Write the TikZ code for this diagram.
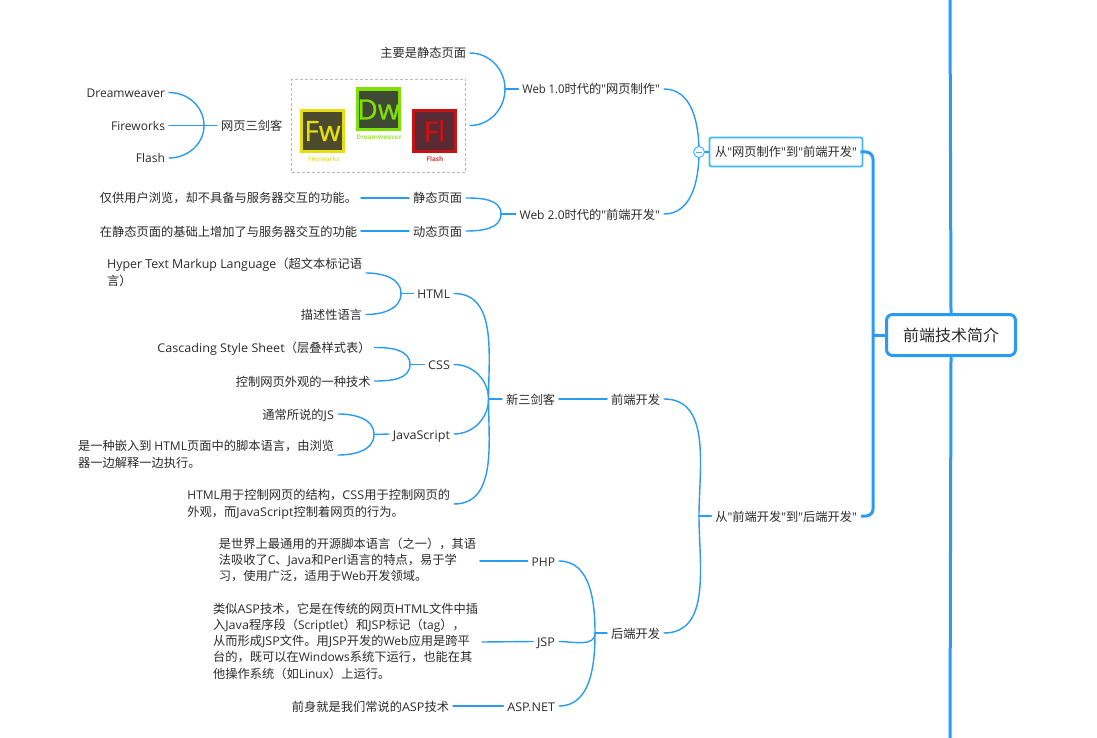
\documentclass[tikz,border=0pt]{standalone}
\usepackage{fontspec}
\setmainfont{Noto Sans CJK SC}
\newfontfamily\latf[Scale=0.98]{Open Sans}
\newfontfamily\latw[Scale=0.98,FakeStretch=1.05]{Open Sans}
\newfontfamily\latx[Scale=1.012]{Open Sans}
\newfontfamily\latn[Scale=0.98,FakeStretch=0.94]{Open Sans}
\newfontfamily\icof[FakeBold=0.7]{Open Sans}
\newcommand{\lat}[1]{{\latf #1}}
\newcommand{\law}[1]{{\latw #1}}
\newcommand{\lax}[1]{{\latx #1}}
\newcommand{\lan}[1]{{\latn #1}}
\newcommand{\qt}{{\latf"}}
\definecolor{lk}{HTML}{2A9BF5}
\definecolor{lb}{HTML}{45B4FF}
\definecolor{tx}{HTML}{2B2B2B}
\definecolor{fwc}{HTML}{E6DE10}
\definecolor{fwi}{HTML}{4C4A2C}
\definecolor{dwc}{HTML}{80E000}
\definecolor{dwi}{HTML}{3E4A34}
\definecolor{flc}{HTML}{C81216}
\definecolor{fli}{HTML}{5A2A34}
\tikzset{
  lnk/.style={draw=lk,line width=1.4pt,line cap=round},
  trk/.style={draw=lk,line width=3pt},
  tl/.style={anchor=east,inner xsep=4pt,inner ysep=0pt,outer sep=0pt,text=tx,font=\fontsize{12.25}{16.5}\selectfont,align=left,
    execute at begin node={\rule{0pt}{13pt}},execute at end node={\rule[-3pt]{0pt}{3pt}}},
  tr/.style={tl,anchor=west},
  two/.style={tl,font=\fontsize{12.25}{17}\selectfont,execute at begin node={\rule{0pt}{18.5pt}}},
  many/.style={tl,font=\fontsize{12.25}{16.2}\selectfont,execute at begin node={\rule{0pt}{19pt}}},
  icap/.style={font=\latf\bfseries\fontsize{6.6}{6.6}\selectfont,inner sep=0pt},
  ico/.style={line width=3.4pt,minimum width=41.6pt,minimum height=40.6pt,inner sep=0pt,outer sep=0pt,font=\icof\fontsize{28}{28}\selectfont},
}
\begin{document}
\begin{tikzpicture}[x=1pt,y=-1pt]
\useasboundingbox (0,0) rectangle (1097,738);
\fill[white] (0,0) rectangle (1097,738);
% root and main vertical
\coordinate (topv) at (950,0);
\coordinate (botv) at (950,738);
\coordinate (trk) at (873,335);
\node[draw=lk,fill=white,line width=3pt,rounded corners=6pt,minimum width=129pt,minimum height=41pt,inner sep=0pt,text=tx,font=\fontsize{16}{16}\selectfont] (root) at (951,335) {前端技术简介};
\draw[trk] (root.north) -- (topv);
\draw[trk] (root.south) -- (botv);
% level 1
\node[draw=lb,fill=white,line width=1.8pt,rounded corners=2pt,minimum width=153pt,minimum height=29pt,inner sep=0pt,text=tx,font=\fontsize{12.25}{16}\selectfont] (a) at (786,152) {从\qt 网页制作\qt 到\qt 前端开发\qt};
\node[tl] (b) at (861,516) {从\qt 前端开发\qt 到\qt 后端开发\qt};
\draw[trk,rounded corners=7pt] ([xshift=-3pt]a.east) -- (a.east -| trk) -- (b.east -| trk) -- (b.east);
\draw[trk] (root.west) -- (root.west -| trk);
% Web 1.0
\coordinate (ja) at (699,152);
\coordinate (jb) at (699,516);
\node[tl] (w1) at (664,89) {\lan{Web 1.0}时代的\qt 网页制作\qt};
\node[tl] (w2) at (664,214) {\lat{Web 2.0}时代的\qt 前端开发\qt};
\draw[lnk] (ja) to[out=90,in=0] (w1.east);
\draw[lnk] (ja) to[out=-90,in=0] (w2.east);
\node[draw=lb,fill=white,line width=1pt,circle,minimum size=11pt,inner sep=0pt] (col) at (ja) {};
\draw[lnk] (col.east) -- (a.west);
\draw[draw=lb,line width=.8pt] ([xshift=-3pt]col.center) -- ([xshift=3pt]col.center);
\coordinate (j1) at (505,89);
\node[tl] (s1) at (470,53) {主要是静态页面};
\coordinate (imgr) at (470,125.5);
\draw[lnk] (j1) -- (w1.west);
\draw[lnk] (j1) to[out=90,in=0] (s1.east);
\draw[lnk] (j1) to[out=-90,in=0] (imgr);
% picture
\node[draw=gray!55,densely dashed,line width=.7pt,minimum width=174pt,minimum height=93pt,inner sep=0pt] (img) at (378.5,125.5) {};
\node[ico,draw=fwc,fill=fwi,text=fwc] (fw) at (322.5,131) {Fw};
\node[ico,draw=dwc,fill=dwi,text=dwc] (dw) at (378.5,109.5) {Dw};
\node[ico,draw=flc,fill=fli,text=flc] (fl) at (434.5,131) {Fl};
\node[icap,text=fwc!75] (fwt) at (324,159) {Fireworks};
\node[icap,text=dwc!75] (dwt) at (379,137.5) {Dreamweaver};
\node[icap,text=flc!80] (flt) at (435,159) {Flash};
% three swords
\node[tr] (tri) at (217,125.5) {网页三剑客};
\coordinate (j2) at (204,125.5);
\node[tl] (d1) at (169,92.5) {\lat{Dreamweaver}};
\node[tl] (d2) at (169,125.5) {\lat{Fireworks}};
\node[tl] (d3) at (169,158) {\lat{Flash}};
\draw[lnk] (j2) -- (tri.west);
\draw[lnk] (j2) to[out=90,in=0] (d1.east);
\draw[lnk] (d2.east) -- (j2);
\draw[lnk] (j2) to[out=-90,in=0] (d3.east);
% Web 2.0 children
\coordinate (j3) at (501,214);
\node[tl] (st) at (466,198) {静态页面};
\node[tl] (dy) at (466,231) {动态页面};
\draw[lnk] (j3) -- (w2.west);
\draw[lnk] (j3) to[out=90,in=0] (st.east);
\draw[lnk] (j3) to[out=-90,in=0] (dy.east);
\node[tl] (st1) at (361,198) {仅供用户浏览，却不具备与服务器交互的功能。};
\node[tl] (dy1) at (361,231) {在静态页面的基础上增加了与服务器交互的功能};
\draw[lnk] (st1.east) -- (st.west);
\draw[lnk] (dy1.east) -- (dy.west);
% front-end / back-end
\node[tl] (fe) at (664,399) {前端开发};
\node[tl] (be) at (664,633) {后端开发};
\draw[lnk] (jb) -- (b.west);
\draw[lnk] (jb) to[out=90,in=0] (fe.east);
\draw[lnk] (jb) to[out=-90,in=0] (be.east);
\node[tl] (xs) at (559,399) {新三剑客};
\draw[lnk] (xs.east) -- (fe.west);
\coordinate (j4) at (488.5,399);
\draw[lnk] (j4) -- (xs.west);
\node[tl] (html) at (454,293.5) {\lat{HTML}};
\node[tl] (css) at (454,364.5) {\law{CSS}};
\node[tl] (js) at (454,434) {\law{JavaScript}};
\node[two] (sum) at (454,504) {\lat{HTML}用于控制网页的结构，\law{CSS}用于控制网页的\\外观，而\law{JavaScript}控制着网页的行为。};
\draw[lnk] (j4) to[out=90,in=0] (html.east);
\draw[lnk] (j4) to[out=90,in=0] (css.east);
\draw[lnk] (j4) to[out=-90,in=0] (js.east);
\draw[lnk] (j4) to[out=-90,in=0] (sum.east);
% HTML
\coordinate (jh) at (401,293.5);
\node[two] (h1) at (366,273) {\lax{Hyper Text Markup Language}（超文本标记语\\言）};
\node[tl] (h2) at (366,314.5) {描述性语言};
\draw[lnk] (jh) -- (html.west);
\draw[lnk] (jh) to[out=90,in=0] (h1.east);
\draw[lnk] (jh) to[out=-90,in=0] (h2.east);
% CSS
\coordinate (jc) at (410,364.5);
\node[tl] (c1) at (374.5,347.5) {\law{Cascading Style Sheet}（层叠样式表）};
\node[tl] (c2) at (374.5,381) {控制网页外观的一种技术};
\draw[lnk] (jc) -- (css.west);
\draw[lnk] (jc) to[out=90,in=0] (c1.east);
\draw[lnk] (jc) to[out=-90,in=0] (c2.east);
% JS
\coordinate (jj) at (374,434.5);
\node[tl] (j1t) at (338,414) {通常所说的\law{JS}};
\node[two] (j2t) at (338,455) {是一种嵌入到 \lat{HTML}页面中的脚本语言，由浏览\\器一边解释一边执行。};
\draw[lnk] (jj) -- (js.west);
\draw[lnk] (jj) to[out=90,in=0] (j1t.east);
\draw[lnk] (jj) to[out=-90,in=0] (j2t.east);
% back-end children
\coordinate (j5) at (595,633);
\node[tl] (php) at (559,561) {\lat{PHP}};
\node[tl] (jsp) at (559,641.5) {\law{JSP}};
\node[tl] (asp) at (559,706) {\law{ASP.NET}};
\draw[lnk] (j5) -- (be.west);
\draw[lnk] (j5) to[out=90,in=0] (php.east);
\draw[lnk] (j5) to[out=-90,in=0] (jsp.east);
\draw[lnk] (j5) to[out=-90,in=0] (asp.east);
\node[many] (p1) at (480,561) {是世界上最通用的开源脚本语言（之一），其语\\法吸收了\lat{C}、\law{Java}和\law{Perl}语言的特点，易于学\\习，使用广泛，适用于\lat{Web}开发领域。};
\node[many] (p2) at (482,642) {类似\law{ASP}技术，它是在传统的网页\law{HTML}文件中插\\入\law{Java}程序段（\lat{Scriptlet}）和\law{JSP}标记（\lat{tag}），\\从而形成\law{JSP}文件。用\law{JSP}开发的\lat{Web}应用是跨平\\台的，既可以在\lat{Windows}系统下运行，也能在其\\他操作系统（如\lat{Linux}）上运行。};
\node[tl] (p3) at (453,706) {前身就是我们常说的\law{ASP}技术};
\draw[lnk] (p1.east) -- (php.west);
\draw[lnk] (p2.east) -- (jsp.west);
\draw[lnk] (p3.east) -- (asp.west);
\end{tikzpicture}
\end{document}
